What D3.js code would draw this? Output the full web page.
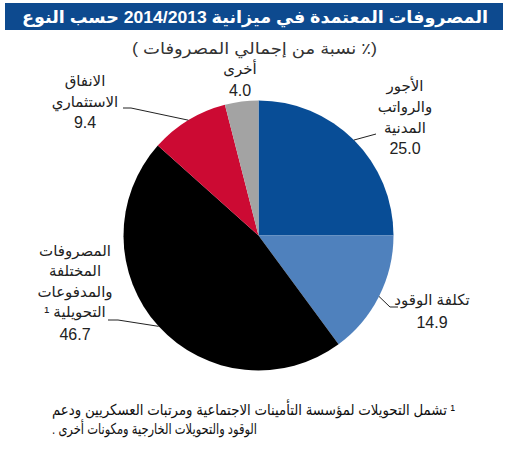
<!DOCTYPE html>
<html><head><meta charset="utf-8">
<script src="https://cdn.jsdelivr.net/npm/d3@7"></script>
<style>
html,body{margin:0;padding:0;background:#fff;}
svg{display:block;font-family:"Liberation Sans",Arial,"DejaVu Sans",sans-serif;}
</style></head>
<body>
<svg id="chart" width="506" height="450"></svg>
<script>
const categories = ["الأجور والرواتب المدنية", "تكلفة الوقود", "المصروفات المختلفة والمدفوعات التحويلية", "الانفاق الاستثماري", "أخرى"];
const values = [25.0, 14.9, 46.7, 9.4, 4.0];
const valueLabels = ["25.0", "14.9", "46.7", "9.4", "4.0"];
const labelLines = [
  ["الأجور", "والرواتب", "المدنية"],
  ["تكلفة الوقود"],
  ["المصروفات", "المختلفة", "والمدفوعات", "التحويلية ¹"],
  ["الانفاق", "الاستثماري"],
  ["أخرى"]
];
const colors = ["#084d96", "#4f81bd", "#000000", "#cc0a33", "#a3a3a3"];
const title = "المصروفات المعتمدة في ميزانية 2014/2013 حسب النوع";
const subtitle = "(٪ نسبة من إجمالي المصروفات )";
const footnote = ["¹ تشمل التحويلات لمؤسسة التأمينات الاجتماعية ومرتبات العسكريين ودعم", "الوقود والتحويلات الخارجية ومكونات أخرى ."];

const svg = d3.select("#chart");

// title bar
svg.append("rect").attr("x", 5).attr("y", 3).attr("width", 498).attr("height", 27).attr("fill", "#0d4a8f");
svg.append("text").attr("x", 255).attr("y", 23).attr("text-anchor", "middle").attr("direction", "rtl")
  .attr("fill", "#fff").attr("font-weight", "bold").attr("font-size", 17)
  .attr("textLength", 466).attr("lengthAdjust", "spacingAndGlyphs").text(title);
svg.append("text").attr("x", 254.5).attr("y", 54).attr("text-anchor", "middle").attr("direction", "rtl")
  .attr("fill", "#333").attr("font-size", 16)
  .attr("textLength", 245).attr("lengthAdjust", "spacingAndGlyphs").text(subtitle);

// pie
const cx = 258.5, cy = 235.5, R = 135;
const pie = d3.pie().sort(null).value(d => d);
const arcs = pie(values);
const arc = d3.arc().innerRadius(0).outerRadius(R);
const g = svg.append("g").attr("transform", `translate(${cx},${cy})`);
g.selectAll("path").data(arcs).join("path").attr("d", arc).attr("fill", (d, i) => colors[i]);

// label layout (positions only)
const layout = [
  {x: 405, y0: 91, dy: 20.8, numY: 154, leaderEnd: [[376, 134]]},
  {x: 432, y0: 305, dy: 20.8, numY: 328, leaderEnd: [[390, 307], [398, 307]]},
  {x: 75, y0: 256, dy: 20.3, numY: 340, leaderEnd: [[118, 320], [108, 320]]},
  {x: 85, y0: 86, dy: 20.8, numY: 128, leaderEnd: [[131, 108], [123, 108]]},
  {x: 240, y0: 74, dy: 20.8, numY: 95.5, leaderEnd: null}
];

arcs.forEach((a, i) => {
  const L = layout[i];
  labelLines[i].forEach((t, j) => {
    svg.append("text").attr("x", L.x).attr("y", L.y0 + j * L.dy).attr("text-anchor", "middle")
      .attr("direction", "rtl").attr("fill", "#222").attr("font-size", 15).text(t);
  });
  svg.append("text").attr("x", L.x).attr("y", L.numY).attr("text-anchor", "middle")
    .attr("fill", "#222").attr("font-size", 16).text(valueLabels[i]);
  if (L.leaderEnd) {
    const mid = (a.startAngle + a.endAngle) / 2;
    const p0 = [cx + R * Math.sin(mid), cy - R * Math.cos(mid)];
    const pts = [p0].concat(L.leaderEnd);
    svg.append("path").attr("d", d3.line()(pts)).attr("fill", "none").attr("stroke", "#222").attr("stroke-width", 1);
  }
});

// footnote
const footLen = [403, 205];
footnote.forEach((t, j) => {
  svg.append("text").attr("x", 52).attr("y", 415 + j * 18.5).attr("text-anchor", "end").attr("direction", "rtl")
    .attr("fill", "#111").attr("font-size", 15)
    .attr("textLength", footLen[j]).attr("lengthAdjust", "spacingAndGlyphs").text(t);
});
</script>
</body></html>
